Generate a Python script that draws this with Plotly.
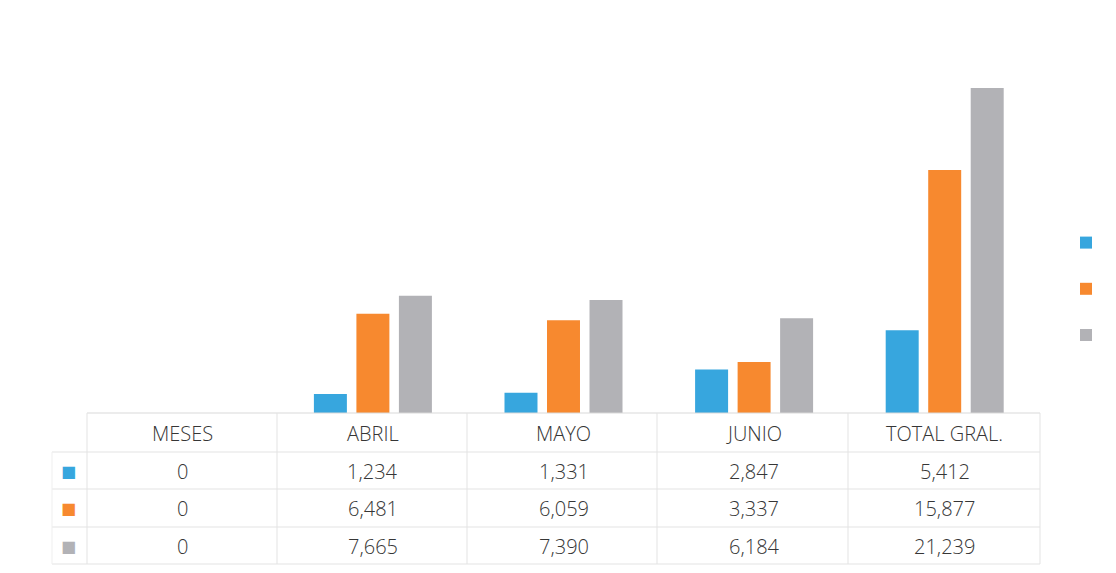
import plotly.graph_objects as go

categories = ["MESES", "ABRIL", "MAYO", "JUNIO", "TOTAL GRAL."]
serie_azul = [0, 1234, 1331, 2847, 5412]
serie_naranja = [0, 6481, 6059, 3337, 15877]
serie_gris = [0, 7665, 7390, 6184, 21239]
series_names = [" ", " ", " "]
colors = ["#37A6DE", "#F7892F", "#B2B2B6"]

W, H = 1116, 573
L, R, T, B = 87, 1040, 31, 413  # plot area pixel bounds


def py(p):
    """pixel y -> paper y"""
    return (B - p) / (B - T)


def px(p):
    return (p - L) / (R - L)


fig = go.Figure()
for name, vals, col, g in zip(series_names, [serie_azul, serie_naranja, serie_gris], colors, ["a", "b", "c"]):
    fig.add_trace(go.Bar(x=categories, y=vals, name=name, marker=dict(color=col, line=dict(width=0)),
                         legendgroup=g, hoverinfo="x+y"))

font_fam = "Open Sans, Lato, sans-serif"
txt_col = "#363636"
annotations = []
shapes = []
line_col = "#E3E3E3"

# table geometry (pixels)
header_y = 433
row_ys = [471, 508, 546]
hlines = [452, 489, 527, 564]
left_edge = 52

# header
for c in categories:
    annotations.append(dict(x=c, y=py(header_y), xref="x", yref="paper", text=c, showarrow=False,
                            xanchor="center", yanchor="middle",
                            font=dict(family=font_fam, size=20, color=txt_col, weight=300)))
# rows
for vals, col, ry in zip([serie_azul, serie_naranja, serie_gris], colors, row_ys):
    annotations.append(dict(x=px(68), y=py(ry), xref="paper", yref="paper", text="■", showarrow=False,
                            xanchor="center", yanchor="middle",
                            font=dict(family="DejaVu Sans", size=16, color=col)))
    for c, v in zip(categories, vals):
        annotations.append(dict(x=c, y=py(ry), xref="x", yref="paper", text=f"{v:,}", showarrow=False,
                                xanchor="center", yanchor="middle",
                                font=dict(family=font_fam, size=20, color=txt_col, weight=300)))

# table lines
shapes.append(dict(type="line", xref="paper", yref="paper", x0=0, x1=1, y0=py(B), y1=py(B),
                   line=dict(color="#D9D9D9", width=1)))
for hy in hlines:
    shapes.append(dict(type="line", xref="paper", yref="paper", x0=px(left_edge), x1=1, y0=py(hy), y1=py(hy),
                       line=dict(color=line_col, width=1)))
for vx in [87, 277, 467, 657, 848, 1040]:
    shapes.append(dict(type="line", xref="paper", yref="paper", x0=px(vx), x1=px(vx), y0=py(B), y1=py(564),
                       line=dict(color=line_col, width=1)))
shapes.append(dict(type="line", xref="paper", yref="paper", x0=px(left_edge), x1=px(left_edge), y0=py(452), y1=py(564),
                   line=dict(color="#EFEFEF", width=1)))

fig.update_layout(
    width=W, height=H, autosize=False,
    margin=dict(l=L, r=W - R, t=T, b=H - B, autoexpand=False),
    paper_bgcolor="white", plot_bgcolor="white",
    barmode="group", bargap=0.331, bargroupgap=0.224,
    xaxis=dict(showticklabels=False, showgrid=False, zeroline=False, showline=False, ticks="",
               range=[-0.5, 4.5]),
    yaxis=dict(showticklabels=False, showgrid=False, zeroline=False, showline=False, ticks="",
               range=[0, 21239 * (B - T) / (413 - 88)]),
    showlegend=True,
    legend=dict(x=px(1066), y=py(227), xanchor="left", yanchor="top", tracegroupgap=25,
                font=dict(size=14), bgcolor="rgba(0,0,0,0)", itemwidth=30),
    annotations=annotations, shapes=shapes,
)

post = ("document.body.style.margin='0';document.body.style.overflow='hidden';"
        "var gd=document.getElementById('{plot_id}');Plotly.relayout(gd,{width:1116,height:573});")
fig.write_html("out.html", post_script=post, config={"responsive": False, "displayModeBar": False})
